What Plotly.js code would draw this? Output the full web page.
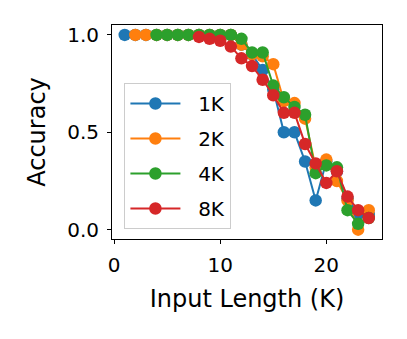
<!DOCTYPE html>
<html>
<head>
<meta charset="utf-8">
<script src="https://cdn.plot.ly/plotly-3.0.1.min.js"></script>
<style>
  body { margin: 0; background: #fff; }
  #acc-plot { width: 407px; height: 339px; }
</style>
</head>
<body>
<div id="acc-plot"></div>
<script>
/* accuracy vs input length, one line per context size */
var labels = ['1K', '2K', '4K', '8K'];
var colors = ['#1f77b4', '#ff7f0e', '#2ca02c', '#d62728'];

var x1k = [1, 2, 3, 4, 5, 6, 7, 8, 9, 10, 11, 12, 13, 14, 15, 16, 17, 18, 19, 20, 21, 22, 23, 24];
var y1k = [1, 1, 1, 1, 1, 1, 1, 1, 1, 1, 1, 0.95, 0.9, 0.82, 0.72, 0.5, 0.5, 0.35, 0.15, 0.35, 0.3, 0.16, 0.08, 0.08];

var x2k = [2, 3, 4, 5, 6, 7, 8, 9, 10, 11, 12, 13, 14, 15, 16, 17, 18, 19, 20, 21, 22, 23, 24];
var y2k = [1, 1, 1, 1, 1, 1, 1, 1, 1, 1, 0.95, 0.9, 0.89, 0.85, 0.66, 0.65, 0.57, 0.32, 0.36, 0.25, 0.15, 0.0, 0.1];

var x4k = [4, 5, 6, 7, 8, 9, 10, 11, 12, 13, 14, 15, 16, 17, 18, 19, 20, 21, 22, 23, 24];
var y4k = [1, 1, 1, 1, 1, 1, 1, 1, 0.98, 0.91, 0.91, 0.74, 0.68, 0.63, 0.59, 0.29, 0.33, 0.32, 0.1, 0.03, 0.06];

var x8k = [8, 9, 10, 11, 12, 13, 14, 15, 16, 17, 18, 19, 20, 21, 22, 23, 24];
var y8k = [0.99, 0.98, 0.97, 0.94, 0.88, 0.84, 0.77, 0.69, 0.6, 0.6, 0.44, 0.34, 0.24, 0.3, 0.17, 0.1, 0.06];

var xs = [x1k, x2k, x4k, x8k];
var ys = [y1k, y2k, y4k, y8k];

var data = [];
for (var i = 0; i < labels.length; i++) {
	data.push({
		x: xs[i],
		y: ys[i],
		// two nbsp push the label away from the symbol like matplotlib does
		name: '\u00a0\u00a0' + labels[i],
		legendgroup: labels[i],
		type: 'scatter',
		mode: 'lines+markers',
		marker: { color: colors[i], size: 12.5 },
		line: { color: colors[i], width: 2 }
	});
}

var layout = {
	width: 407,
	height: 339,
	margin: { l: 112, r: 25, t: 25, b: 100 },
	font: { family: 'DejaVu Sans, sans-serif', size: 20, color: '#000' },
	paper_bgcolor: '#fff',
	plot_bgcolor: '#fff',
	showlegend: true,
	legend: {
		x: 0.046,
		y: 0.729,
		xanchor: 'left',
		yanchor: 'top',
		bgcolor: 'rgba(255,255,255,0.8)',
		bordercolor: '#cccccc',
		borderwidth: 1,
		tracegroupgap: 6,
		itemwidth: 50,
		font: { size: 20 }
	},
	xaxis: {
		title: { text: 'Input Length (K)', standoff: 14 },
		range: [-0.2, 25.25],
		tickvals: [0, 10, 20],
		ticks: 'outside',
		ticklen: 4,
		tickwidth: 1,
		tickcolor: '#000',
		ticklabelstandoff: 4,
		showline: true,
		linecolor: '#000',
		linewidth: 1,
		mirror: true,
		showgrid: false,
		zeroline: false
	},
	yaxis: {
		title: { text: 'Accuracy', standoff: 14 },
		range: [-0.048, 1.051],
		tickvals: [0, 0.5, 1],
		ticktext: ['0.0', '0.5', '1.0'],
		ticks: 'outside',
		ticklen: 4,
		tickwidth: 1,
		tickcolor: '#000',
		ticklabelstandoff: 4,
		showline: true,
		linecolor: '#000',
		linewidth: 1,
		mirror: true,
		showgrid: false,
		zeroline: false
	}
};

Plotly.newPlot('acc-plot', data, layout, { displayModeBar: false });
</script>
</body>
</html>
